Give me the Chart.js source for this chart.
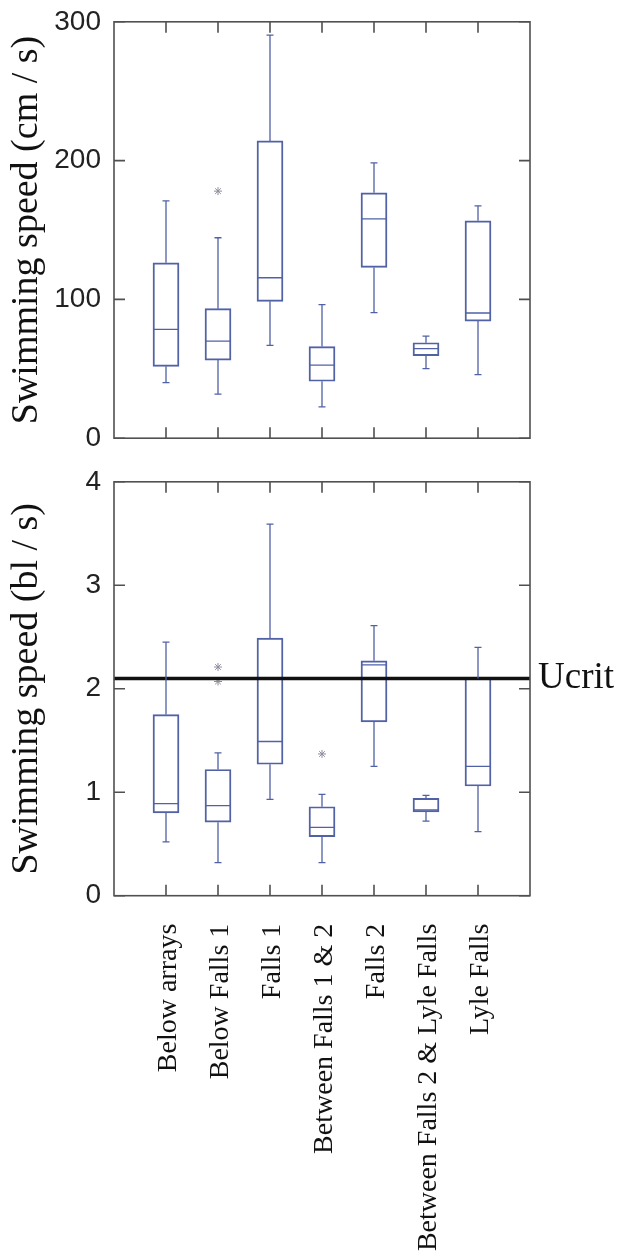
<!DOCTYPE html>
<html>
<head>
<meta charset="utf-8">
<script src="https://cdn.jsdelivr.net/npm/chart.js@4.4.1/dist/chart.umd.min.js"></script>
<style>
body { margin: 0; background: #fff; }
#wrapTop { position: absolute; left: 0; top: 0; width: 621px; height: 460px; }
#wrapBot { position: absolute; left: 0; top: 460px; width: 621px; height: 799px; }
</style>
</head>
<body>
<div id="wrapTop"><canvas id="top"></canvas></div>
<div id="wrapBot"><canvas id="bot"></canvas></div>
<script>
var categories = ['Below arrays', 'Below Falls 1', 'Falls 1', 'Between Falls 1 & 2', 'Falls 2', 'Between Falls 2 & Lyle Falls', 'Lyle Falls'];

// speed in cm / s
var cmLow  = [40, 31.7, 66.9, 22.5, 90.4, 50.1, 45.8];
var cmQ1   = [51.8, 56.3, 98.6, 41, 123, 59.5, 84.4];
var cmMed  = [78.4, 70, 115.6, 52.7, 158, 64.5, 90.2];
var cmQ3   = [126.4, 93.3, 214.2, 66, 176.8, 68.8, 156.6];
var cmHigh = [171, 144.4, 290.4, 96.2, 198.3, 73.6, 167.4];
var cmOutlierCat = [2];
var cmOutlierVal = [178];
var cmTicks = [0, 100, 200, 300];

// speed in body lengths / s
var blLow  = [0.52, 0.32, 0.93, 0.32, 1.25, 0.72, 0.62];
var blQ1   = [0.80, 0.71, 1.27, 0.57, 1.68, 0.81, 1.06];
var blMed  = [0.89, 0.87, 1.49, 0.66, 2.23, 0.83, 1.25];
var blQ3   = [1.75, 1.22, 2.49, 0.86, 2.27, 0.94, 2.10];
var blHigh = [2.45, 1.38, 3.59, 0.98, 2.61, 0.97, 2.40];
var blOutlierCat = [2, 2, 4];
var blOutlierVal = [2.21, 2.07, 1.37];
var blTicks = [0, 1, 2, 3, 4];
var ucrit = 2.1;

var boxColor = '#5061a6';
var frameColor = '#505050';

// whiskers, medians, frame with inside ticks
var boxExtras = {
    id: 'boxExtras',
    afterDatasetsDraw: function (chart, args, opts) {
        var ctx = chart.ctx, x = chart.scales.x, y = chart.scales.y, a = chart.chartArea;
        ctx.save();
        ctx.strokeStyle = boxColor;
        ctx.lineWidth = 1.3;
        for (var i = 0; i < categories.length; i++) {
            var px = x.getPixelForValue(i + 1);
            var hw = 13, cap = 3.5;
            ctx.beginPath();
            ctx.moveTo(px, y.getPixelForValue(opts.q3[i]));
            ctx.lineTo(px, y.getPixelForValue(opts.high[i]));
            ctx.moveTo(px - cap, y.getPixelForValue(opts.high[i]));
            ctx.lineTo(px + cap, y.getPixelForValue(opts.high[i]));
            ctx.moveTo(px, y.getPixelForValue(opts.q1[i]));
            ctx.lineTo(px, y.getPixelForValue(opts.low[i]));
            ctx.moveTo(px - cap, y.getPixelForValue(opts.low[i]));
            ctx.lineTo(px + cap, y.getPixelForValue(opts.low[i]));
            ctx.moveTo(px - hw, y.getPixelForValue(opts.med[i]));
            ctx.lineTo(px + hw, y.getPixelForValue(opts.med[i]));
            ctx.stroke();
        }
        ctx.strokeStyle = frameColor;
        ctx.lineWidth = 1.6;
        ctx.strokeRect(a.left, a.top, a.right - a.left, a.bottom - a.top);
        ctx.beginPath();
        var tl = 11;
        y.ticks.forEach(function (t) {
            var py = y.getPixelForValue(t.value);
            ctx.moveTo(a.left, py); ctx.lineTo(a.left + tl, py);
            ctx.moveTo(a.right, py); ctx.lineTo(a.right - tl, py);
        });
        for (var j = 0; j < categories.length; j++) {
            var qx = x.getPixelForValue(j + 1);
            ctx.moveTo(qx, a.bottom); ctx.lineTo(qx, a.bottom - tl);
            ctx.moveTo(qx, a.top); ctx.lineTo(qx, a.top + tl);
        }
        ctx.stroke();
        if (opts.label) {
            ctx.fillStyle = '#111';
            ctx.font = '37px "Liberation Serif"';
            ctx.textBaseline = 'middle';
            ctx.textAlign = 'left';
            ctx.fillText(opts.label, a.right + 8, y.getPixelForValue(ucrit));
        }
        ctx.restore();
    }
};

function boxData(q1, q3) {
    return categories.map(function (c, i) { return { x: i + 1, y: [q1[i], q3[i]] }; });
}
function outlierData(cat, val) {
    return cat.map(function (c, i) { return { x: c, y: val[i] }; });
}

function yAxis(max, ticks, title) {
    return {
        min: 0, max: max,
        afterBuildTicks: function (s) { s.ticks = ticks.map(function (v) { return { value: v }; }); },
        ticks: { font: { family: 'Liberation Sans', size: 28 }, color: '#222', padding: 5 },
        grid: { display: false },
        border: { display: false },
        title: { display: true, text: title, color: '#111', font: { family: 'Liberation Serif', size: 38 }, padding: { top: 4, bottom: 0 } },
        afterFit: function (s) { s.width = 114; }
    };
}

new Chart(document.getElementById('top'), {
    data: {
        datasets: [{
            type: 'bar',
            data: boxData(cmQ1, cmQ3),
            backgroundColor: 'rgba(0,0,0,0)',
            borderColor: boxColor,
            borderWidth: 1.3,
            borderSkipped: false,
            barThickness: 26,
            order: 2
        }, {
            type: 'scatter',
            data: outlierData(cmOutlierCat, cmOutlierVal),
            pointStyle: 'star',
            pointRadius: 4,
            borderColor: '#8c8c9c',
            borderWidth: 1,
            order: 1
        }]
    },
    options: {
        responsive: true,
        maintainAspectRatio: false,
        animation: false,
        layout: { padding: { top: 20.7, bottom: 21.4, left: 0, right: 91 } },
        plugins: {
            legend: { display: false },
            tooltip: { enabled: false },
            boxExtras: { low: cmLow, q1: cmQ1, med: cmMed, q3: cmQ3, high: cmHigh }
        },
        scales: {
            x: { type: 'linear', min: 0, max: 8, offset: false, display: false },
            y: yAxis(300, cmTicks, 'Swimming speed (cm / s)')
        }
    },
    plugins: [boxExtras]
});

new Chart(document.getElementById('bot'), {
    data: {
        datasets: [{
            type: 'bar',
            data: boxData(blQ1, blQ3),
            backgroundColor: 'rgba(0,0,0,0)',
            borderColor: boxColor,
            borderWidth: 1.3,
            borderSkipped: false,
            barThickness: 26,
            order: 3
        }, {
            type: 'scatter',
            data: outlierData(blOutlierCat, blOutlierVal),
            pointStyle: 'star',
            pointRadius: 4,
            borderColor: '#8c8c9c',
            borderWidth: 1,
            order: 2
        }, {
            type: 'line',
            data: [{ x: 0, y: ucrit }, { x: 8, y: ucrit }],
            borderColor: '#111',
            borderWidth: 3.5,
            pointRadius: 0,
            order: 1
        }]
    },
    options: {
        responsive: true,
        maintainAspectRatio: false,
        animation: false,
        layout: { padding: { top: 19.3, bottom: 0, left: 0, right: 91 } },
        plugins: {
            legend: { display: false },
            tooltip: { enabled: false },
            boxExtras: { low: blLow, q1: blQ1, med: blMed, q3: blQ3, high: blHigh, label: 'Ucrit' }
        },
        scales: {
            x: {
                type: 'linear', min: 0, max: 8, offset: false,
                afterBuildTicks: function (s) { s.ticks = categories.map(function (c, i) { return { value: i + 1 }; }); },
                ticks: {
                    callback: function (v) { return categories[v - 1]; },
                    autoSkip: false, minRotation: 90, maxRotation: 90, labelOffset: 3,
                    font: { family: 'Liberation Serif', size: 28 }, color: '#111', padding: 20
                },
                grid: { display: false },
                border: { display: false },
                afterFit: function (s) { s.height = 799 - 435.7; }
            },
            y: yAxis(4, blTicks, 'Swimming speed (bl / s)')
        }
    },
    plugins: [boxExtras]
});
</script>
</body>
</html>
